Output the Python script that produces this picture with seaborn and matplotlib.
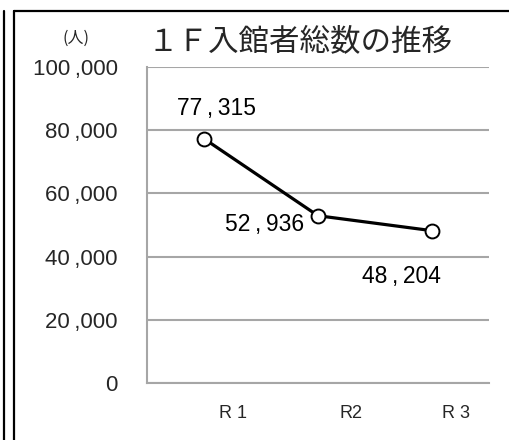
import matplotlib
matplotlib.use("Agg")
import matplotlib.pyplot as plt
import matplotlib.transforms as mtransforms
from matplotlib.lines import Line2D
import seaborn as sns
import pandas as pd

categories = ["R 1", "R2", "R 3"]
visitors = [77315, 52936, 48204]
y_ticks = [0, 20000, 40000, 60000, 80000, 100000]
title = "１Ｆ入館者総数の推移"
unit_label = "(人)"

sns.set_theme(style="white")
plt.rcParams['font.family'] = ['Liberation Sans', 'DejaVu Sans', 'Noto Sans CJK JP']


def fmt(v):
    return f"{v:,}".replace(",", "\u2009,\u2009")


def fmt_tick(v):
    return f"{v:,}".replace(",", "\u2009,")


df = pd.DataFrame({"year": categories, "visitors": visitors})

fig = plt.figure(figsize=(5.1, 4.4), dpi=100)
ax = fig.add_axes([147/510, 57/440, (489-147)/510, (383-67)/440])

sns.lineplot(data=df, x="year", y="visitors", ax=ax, sort=False, color="black",
             linewidth=2.3, marker="o", markersize=10, markerfacecolor="white",
             markeredgecolor="black", markeredgewidth=1.4, zorder=5)

ax.set_xlim(-0.5, 2.5)
ax.set_ylim(0, 100000)
ax.set_yticks(y_ticks)
ax.set_yticklabels([fmt_tick(v) for v in y_ticks], fontsize=16)
ax.yaxis.grid(True, color="#a6a6a6", linewidth=1.5)
ax.set_axisbelow(True)
ax.set_xlabel("")
ax.set_ylabel("")
ax.tick_params(axis="y", length=0, pad=21)
ax.tick_params(axis="x", length=0, pad=16, labelsize=13)
ax.set_xticks(range(len(categories)))
ax.set_xticklabels(categories)
offsets = [29, 33, 24]
for lbl, off in zip(ax.get_xticklabels(), offsets):
    lbl.set_transform(lbl.get_transform() + mtransforms.ScaledTranslation(off/100, 0, fig.dpi_scale_trans))

for s in ["top", "right"]:
    ax.spines[s].set_visible(False)
for s in ["left", "bottom"]:
    ax.spines[s].set_color("#a6a6a6")
    ax.spines[s].set_linewidth(1.5)

# data labels
label_offsets = [(9, 22, "center"), (-10, -6, "right"), (-22, -33, "center")]
for i, (v, (dx, dy, ha)) in enumerate(zip(visitors, label_offsets)):
    ax.annotate(fmt(v), (i, v), xytext=(dx, dy), textcoords="offset points",
                ha=ha, va="center", fontsize=16.5, color="black")

fig.text(300/510, 1 - 43/440, title, ha="center", va="center", fontsize=22,
         family=['Noto Sans CJK JP', 'DejaVu Sans'])
fig.text(76/510, 1 - 38/440, unit_label, ha="center", va="center", fontsize=11.5,
         family=['Noto Sans CJK JP', 'DejaVu Sans'])

# outer frame lines
for xp in [4.5, 14.5]:
    fig.add_artist(Line2D([xp/510, xp/510], [0, 1 - 11/440], color="black", linewidth=1.6,
                          transform=fig.transFigure))
fig.add_artist(Line2D([14.5/510, 1], [1 - 11/440, 1 - 11/440], color="black", linewidth=1.6,
                      transform=fig.transFigure))

fig.savefig("out.png", dpi=100)
